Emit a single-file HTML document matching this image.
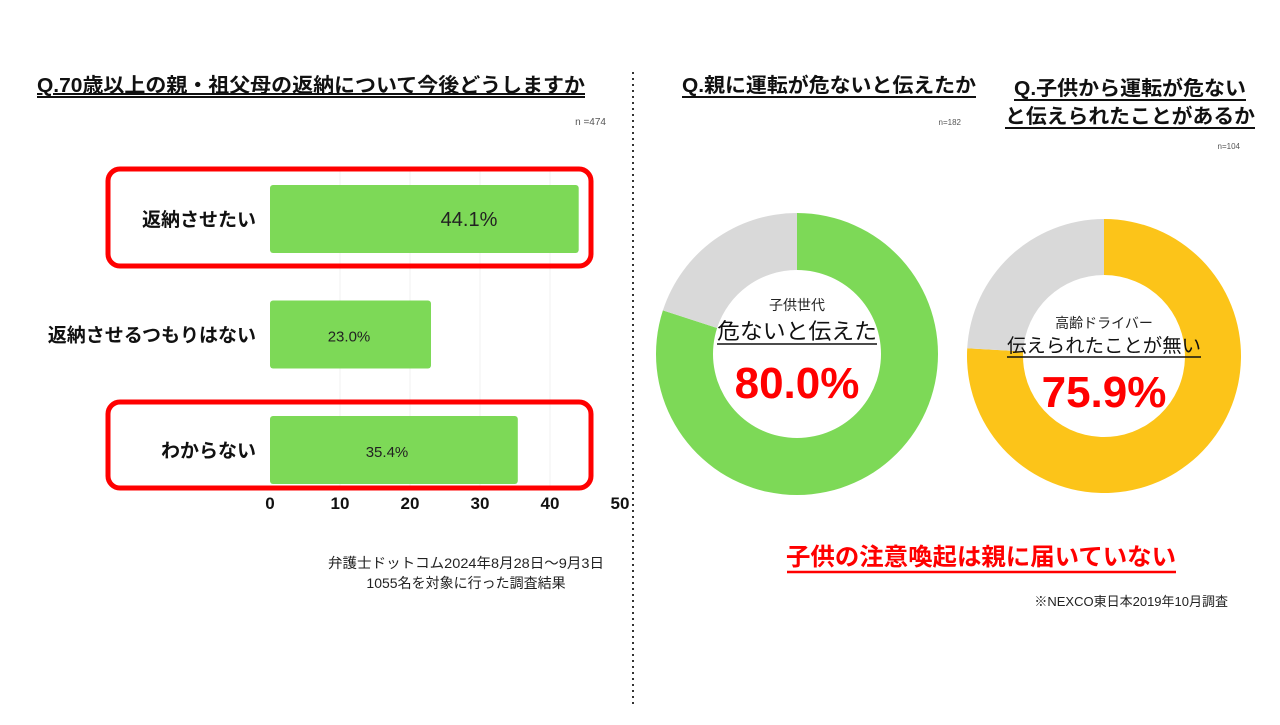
<!DOCTYPE html>
<html><head><meta charset="utf-8">
<style>
html,body{margin:0;padding:0;background:#fff;}
body{width:1280px;height:720px;overflow:hidden;font-family:"Liberation Sans","Noto Sans CJK JP",sans-serif;}
svg text{font-family:"Liberation Sans","Noto Sans CJK JP",sans-serif;}
</style></head>
<body>
<svg id="chart" width="1280" height="720" viewBox="0 0 1280 720" xmlns="http://www.w3.org/2000/svg">
<rect width="1280" height="720" fill="#fff"/>
<line x1="633" y1="72" x2="633" y2="705" stroke="#333" stroke-width="2" stroke-dasharray="2,4"/>
<text x="37" y="92" font-size="20" font-weight="bold" fill="#111" text-decoration="underline" textLength="548" lengthAdjust="spacingAndGlyphs">Q.70歳以上の親・祖父母の返納について今後どうしますか</text>
<line x1="37" y1="97" x2="585" y2="97" stroke="#111" stroke-width="2"/>
<text x="606" y="125" font-size="10" fill="#555" text-anchor="end">n =474</text>
<g id="bars"></g>
<text x="466" y="568" font-size="14" fill="#222" text-anchor="middle" textLength="276" lengthAdjust="spacingAndGlyphs">弁護士ドットコム2024年8月28日〜9月3日</text>
<text x="466" y="588" font-size="14" fill="#222" text-anchor="middle">1055名を対象に行った調査結果</text>

<text x="829" y="92" font-size="20" font-weight="bold" fill="#111" text-anchor="middle" textLength="294" lengthAdjust="spacingAndGlyphs">Q.親に運転が危ないと伝えたか</text>
<line x1="682" y1="97" x2="976" y2="97" stroke="#111" stroke-width="2"/>
<text x="961" y="125" font-size="8" fill="#555" text-anchor="end">n=182</text>
<text x="1130" y="95" font-size="20" font-weight="bold" fill="#111" text-anchor="middle" textLength="232" lengthAdjust="spacingAndGlyphs">Q.子供から運転が危ない</text>
<line x1="1014" y1="100" x2="1246" y2="100" stroke="#111" stroke-width="2"/>
<text x="1130" y="123" font-size="20" font-weight="bold" fill="#111" text-anchor="middle" textLength="250" lengthAdjust="spacingAndGlyphs">と伝えられたことがあるか</text>
<line x1="1005" y1="128" x2="1255" y2="128" stroke="#111" stroke-width="2"/>
<text x="1240" y="149" font-size="8" fill="#555" text-anchor="end">n=104</text>
<g id="donuts"></g>

<text x="981" y="565" font-size="24" font-weight="bold" fill="#f00" text-anchor="middle" textLength="390" lengthAdjust="spacingAndGlyphs">子供の注意喚起は親に届いていない</text>
<line x1="787" y1="572" x2="1176" y2="572" stroke="#f00" stroke-width="2.5"/>
<text x="1228" y="606" font-size="13" fill="#222" text-anchor="end">※NEXCO東日本2019年10月調査</text>
</svg>
<script>
const categories = ["返納させたい", "返納させるつもりはない", "わからない"];
const barValues = [44.1, 23.0, 35.4];
const barLabels = ["44.1%", "23.0%", "35.4%"];
const tickValues = [0, 10, 20, 30, 40, 50];
const highlighted = [true, false, true];
const donutValues = [80.0, 75.9];
const donutLabels = ["80.0%", "75.9%"];
const donutSubtitles = ["子供世代", "高齢ドライバー"];
const donutCaptions = ["危ないと伝えた", "伝えられたことが無い"];

const NS = "http://www.w3.org/2000/svg";
function mk(tag, attrs, parent, txt) {
  const e = document.createElementNS(NS, tag);
  for (const k in attrs) e.setAttribute(k, attrs[k]);
  if (txt !== undefined) e.textContent = txt;
  parent.appendChild(e);
  return e;
}
const x0 = 270, x1 = 620, xMax = 50;
const xs = v => x0 + (v / xMax) * (x1 - x0);
const rowY = i => 219 + i * 115.5;
const bars = document.getElementById("bars");
tickValues.forEach(t => {
  if (t > 0 && t < 50) {
    const g = mk("line", {x1: xs(t), x2: xs(t), y1: 170, y2: 490, stroke: "#f0f0f0", "stroke-width": 1}, bars);
    
    
  }
  const tl = mk("text", {x: xs(t), y: 509, "font-size": 17, "font-weight": "bold", fill: "#111", "text-anchor": "middle"}, bars, String(t));
  
  
});
categories.forEach((c, i) => {
  const cy = rowY(i);
  const b = mk("rect", {x: x0, y: cy - 34, width: xs(barValues[i]) - x0, height: 68, rx: 3, fill: "#7dd957"}, bars);
  
  
  const lab = mk("text", {x: 256, y: cy + 7, "font-size": 19, "font-weight": "bold", fill: "#111", "text-anchor": "end"}, bars, c);
  
  
  const big = i === 0;
  const vl = mk("text", {x: big ? 469 : (i === 1 ? 349 : 387), y: cy + 7, "font-size": big ? 20 : 15, fill: "#222", "text-anchor": "middle"}, bars, barLabels[i]);
  
  
  if (highlighted[i]) {
    const h = i === 0 ? 97 : 86;
    const hy = i === 0 ? cy - 50 : cy - 48;
    const r = mk("rect", {x: 108, y: hy, width: 483, height: h, rx: 12, fill: "none", stroke: "#f00", "stroke-width": 5}, bars);
    
    
  }
});

const donuts = document.getElementById("donuts");
const dcfg = [{cx: 797, cy: 354, R: 141, r: 84, color: "#7dd957"}, {cx: 1104, cy: 356, R: 137, r: 81, color: "#fcc419"}];
function arcPath(cx, cy, R, r, a0, a1) {
  const p = (rad, a) => [cx + rad * Math.sin(a), cy - rad * Math.cos(a)];
  const large = (a1 - a0) > Math.PI ? 1 : 0;
  const [ax, ay] = p(R, a0), [bx, by] = p(R, a1), [cx2, cy2] = p(r, a1), [dx, dy] = p(r, a0);
  return `M${ax},${ay} A${R},${R} 0 ${large} 1 ${bx},${by} L${cx2},${cy2} A${r},${r} 0 ${large} 0 ${dx},${dy} Z`;
}
donutValues.forEach((v, i) => {
  const c = dcfg[i];
  const a = v / 100 * 2 * Math.PI;
  const s1 = mk("path", {d: arcPath(c.cx, c.cy, c.R, c.r, 0, a), fill: c.color}, donuts);
  
  
  const s2 = mk("path", {d: arcPath(c.cx, c.cy, c.R, c.r, a, 2 * Math.PI), fill: "#d9d9d9"}, donuts);
  
  
  const o1 = i === 0 ? -44 : -28;
  const t1 = mk("text", {x: c.cx, y: c.cy + o1, "font-size": 14, fill: "#222", "text-anchor": "middle"}, donuts, donutSubtitles[i]);
  
  
  const fs = i === 0 ? 22 : 19;
  const tw = i === 0 ? 160 : 194;
  const ty = i === 0 ? c.cy - 15 : c.cy - 4;
  const t2 = mk("text", {x: c.cx, y: ty, "font-size": fs, fill: "#111", "text-anchor": "middle", textLength: tw, lengthAdjust: "spacingAndGlyphs"}, donuts, donutCaptions[i]);
  
  
  mk("line", {x1: c.cx - tw / 2, x2: c.cx + tw / 2, y1: ty + 5, y2: ty + 5, stroke: "#111", "stroke-width": 1.5}, donuts);
  const t3 = mk("text", {x: c.cx, y: (i === 0 ? c.cy + 44 : c.cy + 51), "font-size": 44, "font-weight": "bold", fill: "#f00", "text-anchor": "middle"}, donuts, donutLabels[i]);
  
  
});
</script>
</body></html>
